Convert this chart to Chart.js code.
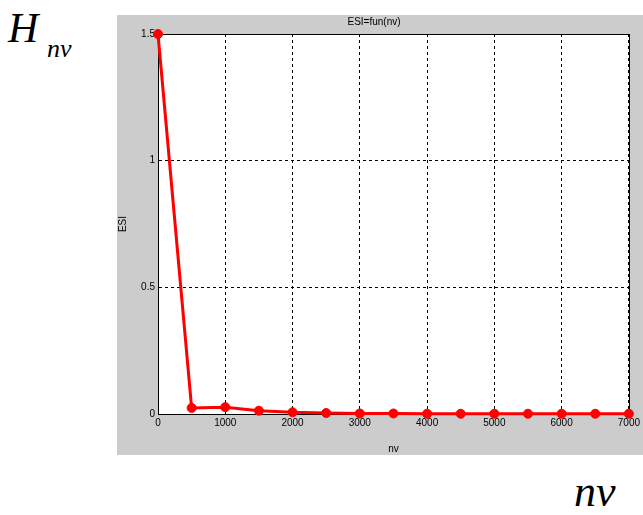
<!DOCTYPE html>
<html>
<head>
<meta charset="utf-8">
<script src="https://cdn.jsdelivr.net/npm/chart.js@4"></script>
<style>
html,body{margin:0;padding:0;background:#fff;width:643px;height:515px;overflow:hidden;position:relative;}
#fig{position:absolute;left:117px;top:15px;width:526px;height:440px;background:#cccccc;}
.big{position:absolute;font-family:"Liberation Serif","DejaVu Serif",serif;font-style:italic;color:#000;line-height:1;white-space:nowrap;}
</style>
</head>
<body>
<div class="big" style="left:8px;top:7px;font-size:42px;">H</div>
<div class="big" style="left:47px;top:36px;font-size:26px;">nv</div>
<div id="fig"><canvas id="c"></canvas></div>
<div class="big" style="left:574px;top:470px;font-size:44px;">nv</div>
<script>
const nvValues = [0, 500, 1000, 1500, 2000, 2500, 3000, 3500, 4000, 4500, 5000, 5500, 6000, 6500, 7000];
const esiValues = [1.5, 0.024, 0.027, 0.013, 0.007, 0.004, 0.002, 0.002, 0.001, 0.001, 0.001, 0.001, 0.001, 0.001, 0.001];
const titleText = 'ESI=fun(nv)';
const xLabel = 'nv';
const yLabel = 'ESI';

const boxPlugin = {
  id: 'box',
  beforeDraw(chart) {
    const a = chart.chartArea, ctx = chart.ctx;
    ctx.save();
    ctx.fillStyle = '#ffffff';
    ctx.fillRect(a.left, a.top, a.right - a.left, a.bottom - a.top);
    ctx.restore();
  },
  beforeDatasetsDraw(chart) {
    const a = chart.chartArea, ctx = chart.ctx;
    ctx.save();
    ctx.strokeStyle = '#000';
    ctx.lineWidth = 1;
    ctx.strokeRect(Math.round(a.left) + 0.5, Math.round(a.top) + 0.5, Math.round(a.right - a.left), Math.round(a.bottom - a.top));
    ctx.restore();
  }
};

const fontTick = {family: '"Liberation Sans", Arial, sans-serif', size: 10};
const fontLab = {family: '"Liberation Sans", Arial, sans-serif', size: 10};

new Chart(document.getElementById('c'), {
  type: 'line',
  data: {
    datasets: [{
      data: nvValues.map((x, i) => ({x: x, y: esiValues[i]})),
      borderColor: '#ff0000',
      backgroundColor: '#ff0000',
      borderWidth: 3,
      pointRadius: 4.5,
      pointBackgroundColor: '#ff0000',
      pointBorderColor: '#ff0000',
      pointBorderWidth: 1,
      tension: 0,
      clip: false
    }]
  },
  options: {
    responsive: true,
    maintainAspectRatio: false,
    animation: false,
    devicePixelRatio: 1,
    layout: {padding: {left: 0, right: 12, top: 0, bottom: 0}},
    plugins: {
      legend: {display: false},
      tooltip: {enabled: false},
      title: {
        display: true,
        text: titleText,
        color: '#000',
        font: {family: '"Liberation Sans", Arial, sans-serif', size: 10, weight: 'normal'},
        padding: {top: 1, bottom: 6}
      }
    },
    scales: {
      x: {
        type: 'linear',
        min: 0, max: 7000,
        afterFit(s) { s.height = 41; },
        ticks: {stepSize: 1000, color: '#000', font: fontTick, padding: 3, maxRotation: 0,
                callback: v => String(v)},
        grid: {color: '#000', lineWidth: 1, drawTicks: false, tickLength: 0},
        border: {display: true, color: '#000', dash: [3, 3], width: 1},
        title: {display: true, text: xLabel, color: '#000', font: fontLab, padding: {top: 1, bottom: 0}}
      },
      y: {
        min: 0, max: 1.5,
        afterFit(s) { s.width = 41; },
        ticks: {stepSize: 0.5, color: '#000', font: fontTick, padding: 3,
                callback: v => String(Math.round(v * 10) / 10)},
        grid: {color: '#000', lineWidth: 1, drawTicks: false, tickLength: 0},
        border: {display: true, color: '#000', dash: [3, 3], width: 1},
        title: {display: true, text: yLabel, color: '#000', font: fontLab, padding: {top: 0, bottom: 0}}
      }
    }
  },
  plugins: [boxPlugin]
});
</script>
</body>
</html>
